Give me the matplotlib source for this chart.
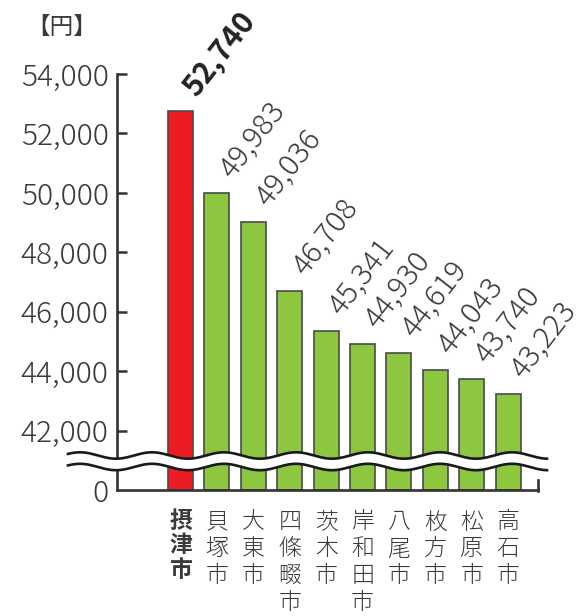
import numpy as np
import matplotlib
matplotlib.use("Agg")
import matplotlib.pyplot as plt
from matplotlib.patches import Polygon
from matplotlib.lines import Line2D

plt.rcParams['font.family'] = ['Noto Sans CJK JP', 'DejaVu Sans']

cities = ['摂津市', '貝塚市', '大東市', '四條畷市', '茨木市', '岸和田市', '八尾市', '枚方市', '松原市', '高石市']
values = [52740, 49983, 49036, 46708, 45341, 44930, 44619, 44043, 43740, 43223]
yticks = [0, 42000, 44000, 46000, 48000, 50000, 52000, 54000]
unit_label = '【円】'

RED = '#ED1C24'
GREEN = '#8DC63F'
TXT = '#3a3a3a'
W, H = 585, 616

def forward(v):
    v = np.asarray(v, dtype=float)
    return np.where(v >= 41000, v, 40000 + v / 41.0)

def inverse(y):
    y = np.asarray(y, dtype=float)
    return np.where(y >= 41000, y, (y - 40000) * 41.0)

fig = plt.figure(figsize=(W / 100, H / 100), dpi=100)
ax = fig.add_axes([117 / W, 1 - 490 / H, (538 - 117) / W, (490 - 74) / H])
ax.set_yscale('function', functions=(forward, inverse))

x = np.arange(len(cities))
colors = [RED] + [GREEN] * (len(cities) - 1)
ax.bar(x, values, width=0.69, color=colors, edgecolor='#4a4a4a', linewidth=1.2, zorder=2)

ax.set_ylim(0, 54000)
ax.set_xlim(-1.745, 9.82)

for i, v in enumerate(values):
    ax.annotate(f'{v:,}', xy=(i, v), xytext=(11, 10), textcoords='offset points',
                rotation=52, rotation_mode='anchor', ha='left', va='baseline',
                fontsize=21.5, color=TXT if i else '#222222',
                fontweight='bold' if i == 0 else 300)

ax.set_yticks(yticks)
ax.set_yticklabels([f'{t:,}' for t in yticks])
ax.tick_params(axis='y', direction='in', length=7.5, width=1.8, colors='#333333',
               labelsize=21.5, pad=6, labelcolor=TXT)
for lab in ax.get_yticklabels():
    lab.set_fontweight(300)
ax.yaxis.get_major_ticks()[0].tick1line.set_visible(False)

ax.set_xticks(x)
ax.set_xticklabels(['\n'.join(c) for c in cities])
ax.tick_params(axis='x', length=0, labelsize=16.5, pad=14, labelcolor=TXT)
for i, lab in enumerate(ax.get_xticklabels()):
    lab.set_linespacing(1.1)
    lab.set_fontweight('bold' if i == 0 else 300)

for s in ['top', 'right']:
    ax.spines[s].set_visible(False)
for s in ['left', 'bottom']:
    ax.spines[s].set_linewidth(1.9)
    ax.spines[s].set_color('#333333')

# small end tick at right of bottom axis
fig.add_artist(Line2D([538 / W, 538 / W], [1 - 491 / H, 1 - 480 / H],
                      transform=fig.transFigure, color='#333333', linewidth=1.9))

# break mark
xs = np.linspace(68, 547, 500)
y_up = 455.5 - 3.2 * np.cos(2 * np.pi * (xs - 80) / 72)
y_lo = y_up + 11.5
poly = np.column_stack([np.concatenate([xs, xs[::-1]]) / W,
                        1 - np.concatenate([y_up, y_lo[::-1]]) / H])
fig.add_artist(Polygon(poly, closed=True, transform=fig.transFigure,
                       facecolor='white', edgecolor='none', zorder=10))
for yy in (y_up, y_lo):
    fig.add_artist(Line2D(xs / W, 1 - yy / H, transform=fig.transFigure,
                          color='#1a1a1a', linewidth=1.9, zorder=11))

fig.text(62 / W, 1 - 27 / H, unit_label, ha='center', va='center', fontsize=17, color=TXT)

fig.savefig('out.png', dpi=100)
